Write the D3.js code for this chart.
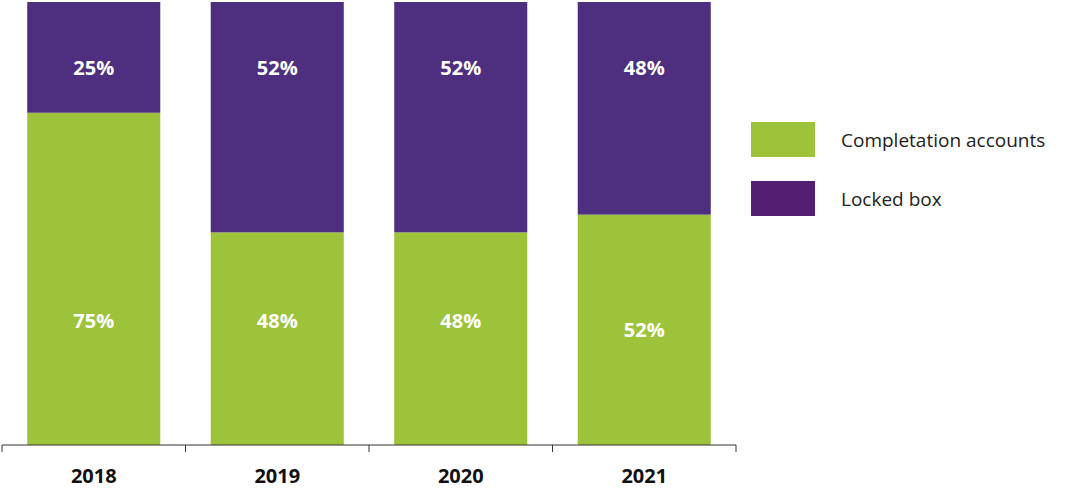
<!DOCTYPE html>
<html><head><meta charset="utf-8">
<script src="https://cdn.jsdelivr.net/npm/d3@7"></script>
<style>body{margin:0;background:#fff}svg{display:block}text{font-family:"Open Sans",sans-serif}</style>
</head><body><svg id="c" width="1080" height="497"></svg>
<script>
const categories=["2018","2019","2020","2021"];
const completion=[75,48,48,52];
const locked=[25,52,52,48];
const seriesNames=["Completation accounts","Locked box"];
const colors=["#9dc33b","#4e2f7f"];
const legendColors=["#9dc33b","#551f71"];

const svg=d3.select("#c");
const x=d3.scaleBand().domain(categories).range([2,736]).paddingInner(0.275).paddingOuter(0.1375);
const y=d3.scaleLinear().domain([0,100]).range([445,2]);

categories.forEach((c,i)=>{
  svg.append("rect").attr("x",x(c)).attr("width",x.bandwidth()).attr("y",y(completion[i])).attr("height",y(0)-y(completion[i])).attr("fill",colors[0]);
  svg.append("rect").attr("x",x(c)).attr("width",x.bandwidth()).attr("y",y(100)).attr("height",y(completion[i])-y(100)).attr("fill",colors[1]);
  const cx=x(c)+x.bandwidth()/2;
  svg.append("text").attr("x",cx).attr("y",y(100-locked[i]/2>85?85:85)+0).attr("dy","0.35em").attr("text-anchor","middle").attr("fill","#fff").attr("font-weight","bold").attr("font-size",20).text(locked[i]+"%");
  svg.append("text").attr("x",cx).attr("y",y(completion[i]>50?(completion[i]>60?28:26):28)).attr("dy","0.35em").attr("text-anchor","middle").attr("fill","#fff").attr("font-weight","bold").attr("font-size",20).text(completion[i]+"%");
});

const axis=d3.axisBottom(x).tickSize(0).tickPadding(24);
const g=svg.append("g").attr("transform","translate(0,445)").call(axis);
g.select(".domain").attr("stroke","#333").attr("d","M2,0H736");
g.selectAll("text").attr("font-size",20).attr("font-weight","bold").attr("fill","#111").attr("font-family","'Open Sans',sans-serif");
const step=x.step();
d3.range(5).forEach(k=>{
  const tx=2+k*step;
  svg.append("line").attr("x1",tx).attr("x2",tx).attr("y1",445).attr("y2",452).attr("stroke","#333");
});

seriesNames.forEach((n,i)=>{
  svg.append("rect").attr("x",751).attr("y",122+i*59).attr("width",64).attr("height",35).attr("fill",legendColors[i]);
  svg.append("text").attr("x",841).attr("y",140+i*59).attr("dy","0.35em").attr("font-size",19).attr("fill","#222").text(n);
});
</script></body></html>
